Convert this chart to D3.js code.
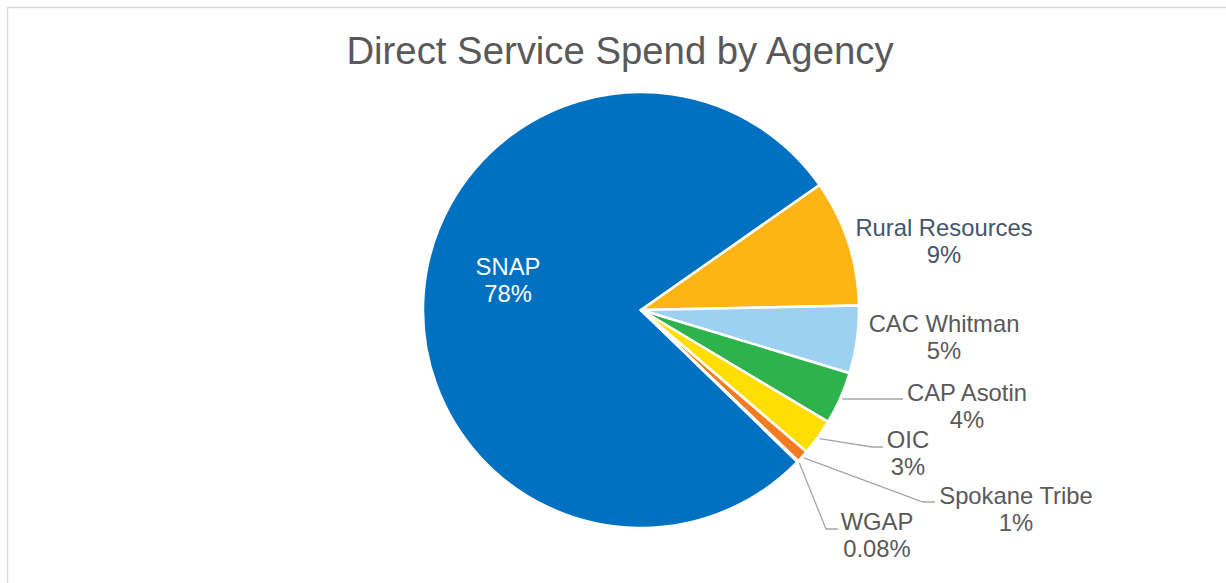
<!DOCTYPE html>
<html><head><meta charset="utf-8">
<script src="https://cdn.jsdelivr.net/npm/d3@7"></script>
<style>body{margin:0;background:#fff;}svg{display:block;font-family:"Liberation Sans",Arial,sans-serif;}</style>
</head><body>
<svg id="c" width="1226" height="583"></svg>
<script>
const title = "Direct Service Spend by Agency";
const categories = ["SNAP","Rural Resources","CAC Whitman","CAP Asotin","OIC","Spokane Tribe","WGAP"];
const values = [78.0, 9.4, 5.0, 3.9, 2.7, 0.9, 0.08];
const colors = ["#0070C0","#FDB515","#9DD1F1","#2EB24C","#FFDE00","#F47B20","#A5A5A5"];

const svg = d3.select("#c");
svg.append("rect").attr("x",7.5).attr("y",7.5).attr("width",1240).attr("height",600)
  .attr("fill","#fff").attr("stroke","#D9D9D9").attr("stroke-width",1.5);

svg.append("text").attr("x",620).attr("y",64).attr("text-anchor","middle")
  .attr("font-size",38.3).attr("fill","#595959").text(title);

const cx=641, cy=310, r=218;
const total = d3.sum(values);
const deg = Math.PI/180;
const snapShare = values[0]/total*360;
const start = (55 - snapShare)*deg;
const pie = d3.pie().sort(null).value(d=>d).startAngle(start).endAngle(start+2*Math.PI);
const arcs = pie(values);
const arc = d3.arc().innerRadius(0).outerRadius(r);
const g = svg.append("g").attr("transform",`translate(${cx},${cy})`);
g.selectAll("path").data(arcs).enter().append("path")
  .attr("d",arc).attr("fill",(d,i)=>colors[i]).attr("stroke","#fff").attr("stroke-width",2.5).attr("stroke-linejoin","round");

const fmt = v => { const p=v/total*100; return (p<0.5? d3.format(".2f")(p) : d3.format(".0f")(p)) + "%"; };

const labelPos = [
  {x:508,y:275,fill:"#fff"},
  {x:944,y:236,fill:"#44546A"},
  {x:944,y:332,fill:"#595959"},
  {x:967,y:401,fill:"#595959"},
  {x:908,y:448,fill:"#595959"},
  {x:1016,y:504,fill:"#595959"},
  {x:877,y:530,fill:"#595959"}
];
const leaderEnds = [null,null,null,
  [[903,399]],
  [[872,447],[883,447]],
  [[923,502],[935,502]],
  [[826,529],[838,529]]
];
const line = d3.line();
arcs.forEach((a,i)=>{
  if(!leaderEnds[i]) return;
  const mid=(a.startAngle+a.endAngle)/2;
  const rr = r+2;
  const p0=[cx+Math.sin(mid)*rr, cy-Math.cos(mid)*rr];
  let pts=[p0].concat(leaderEnds[i]);
  if(i===3) pts=[[p0[0],leaderEnds[i][0][1]]].concat(leaderEnds[i]);
  svg.append("path").attr("d",line(pts)).attr("fill","none").attr("stroke","#A6A6A6").attr("stroke-width",1.3);
});
arcs.forEach((a,i)=>{
  const p=labelPos[i];
  const t=svg.append("text").attr("text-anchor","middle").attr("font-size",23.8).attr("fill",p.fill);
  t.append("tspan").attr("x",p.x).attr("y",p.y).text(categories[i]);
  t.append("tspan").attr("x",p.x).attr("y",p.y+27.3).text(fmt(values[i]));
});
</script>
</body></html>
